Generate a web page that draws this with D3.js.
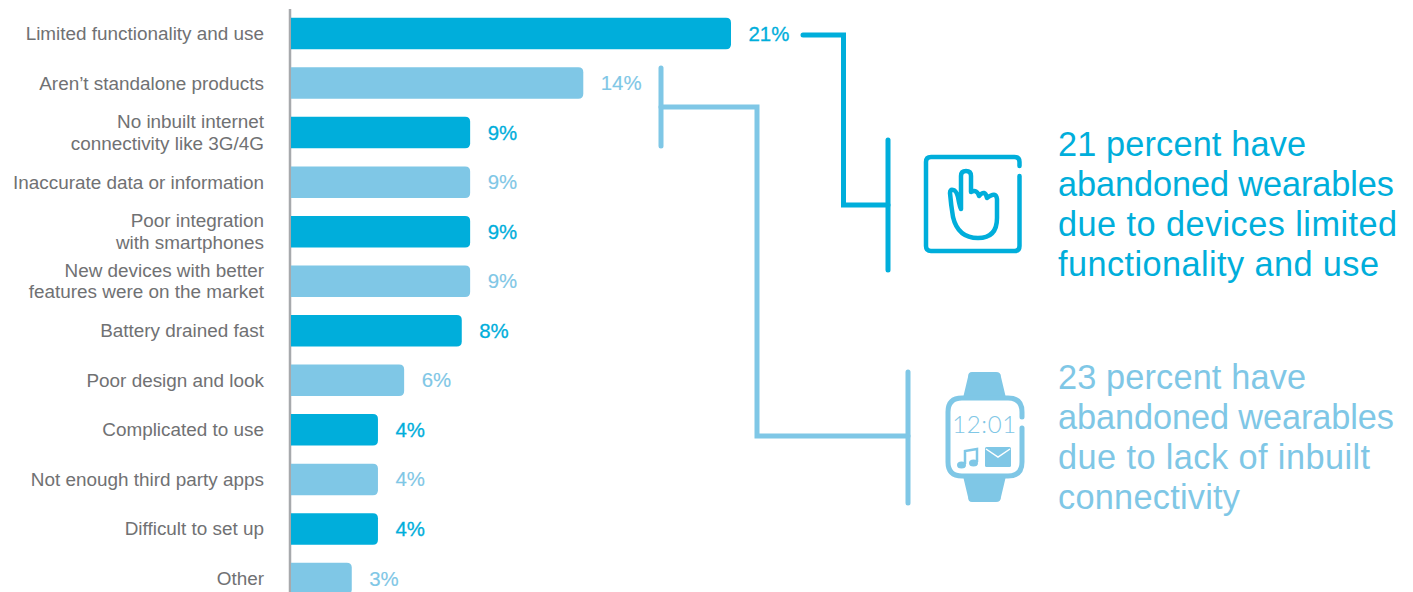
<!DOCTYPE html>
<html><head><meta charset="utf-8">
<script src="https://cdn.jsdelivr.net/npm/d3@7/dist/d3.min.js"></script>
<style>html,body{margin:0;padding:0;background:#fff;overflow:hidden}svg{display:block}text{font-family:"Liberation Sans",Arial,sans-serif}</style>
</head><body><svg id="c" width="1413" height="592"></svg>
<script>
const categories=[["Limited functionality and use"],["Aren’t standalone products"],["No inbuilt internet","connectivity like 3G/4G"],["Inaccurate data or information"],["Poor integration","with smartphones"],["New devices with better","features were on the market"],["Battery drained fast"],["Poor design and look"],["Complicated to use"],["Not enough third party apps"],["Difficult to set up"],["Other"]];
const values=[21,13.95,8.55,8.55,8.55,8.55,8.15,5.4,4.15,4.15,4.15,2.9];
const valueLabels=["21%","14%","9%","9%","9%","9%","8%","6%","4%","4%","4%","3%"];
const callout1=["21 percent have","abandoned wearables","due to devices limited","functionality and use"];
const callout2=["23 percent have","abandoned wearables","due to lack of inbuilt","connectivity"];
const callout1Widths=[248,336,339,321];
const callout2Widths=[248,336,312,182];
const DARK="#00aedb",LIGHT="#7fc7e6",GREY="#707173";
const svg=d3.select("#c");
const x=d3.scaleLinear().domain([0,21]).range([291,731]);
const y=d3.scalePoint().domain(d3.range(12)).range([33.5,578.5]);
const colr=i=>i%2?LIGHT:DARK;
const h=31.5;
svg.append("line").attr("x1",290).attr("x2",290).attr("y1",9).attr("y2",592).attr("stroke","#a7a9ac").attr("stroke-width",2.5);
const bars=svg.append("g");
values.forEach((v,i)=>{
  const yy=y(i)-h/2,w=x(v)-x(0),r=5;
  bars.append("path").attr("fill",colr(i))
    .attr("d",`M${x(0)},${yy}H${x(0)+w-r}Q${x(0)+w},${yy} ${x(0)+w},${yy+r}V${yy+h-r}Q${x(0)+w},${yy+h} ${x(0)+w-r},${yy+h}H${x(0)}Z`);
  svg.append("text").attr("x",x(v)+17.5).attr("y",y(i)+7).attr("fill",colr(i)).attr("font-size",20.4).attr("stroke",colr(i)).attr("stroke-width",i%2?0.15:0.3).text(valueLabels[i]);
  const t=svg.append("text").attr("text-anchor","end").attr("fill",GREY).attr("font-size",18.9);
  const ls=categories[i];
  ls.forEach((s,k)=>t.append("tspan").attr("x",264).attr("y",y(i)+6.5+(ls.length===2?(k===0?-11:10.5):0)).text(s));
});
const conn=(d,c)=>svg.append("path").attr("d",d).attr("fill","none").attr("stroke",c).attr("stroke-width",5).attr("stroke-linecap","round").attr("stroke-linejoin","miter");
conn("M803,35H843.5V205H888",DARK);
conn("M888,140V270",DARK);
conn("M661,68V146",LIGHT);
conn("M661,107H757V436H908",LIGHT);
conn("M908,372V503",LIGHT);
// hand icon
const g1=svg.append("g").attr("fill","none").attr("stroke",DARK).attr("stroke-width",4.5).attr("stroke-linecap","round").attr("stroke-linejoin","round");
g1.append("path").attr("d","M1019.5,166V162Q1019.5,157 1014.5,157H931Q926,157 926,162V246Q926,251 931,251H1014.5Q1019.5,251 1019.5,246V176");
g1.append("path").attr("d","M961,209V176Q961,171 966,171Q971,171 971,176V192Q977,189 979,196Q985,189 987,198Q996,191 997,199V218Q997,238 978,238Q958,238 953,217Q951,205 950,193Q950,189 953,190Q956,190 958,197Q960,208 961,209");
// watch icon
const g2=svg.append("g");
g2.append("path").attr("fill",LIGHT).attr("d","M972,372H996Q1001,372 1001,377L1006,398H963L968,377Q968,372 972,372Z");
g2.append("path").attr("fill",LIGHT).attr("d","M963,476H1006L1001,497Q1001,502 996,502H972Q968,502 968,497Z");
g2.append("path").attr("fill","#fff").attr("stroke",LIGHT).attr("stroke-width",5).attr("stroke-linecap","round").attr("d","M1022,417V412Q1022,398 1008,398H962Q948,398 948,412V462Q948,476 962,476H1008Q1022,476 1022,462V428");
g2.append("text").attr("x",984.5).attr("y",433).attr("text-anchor","middle").attr("fill",LIGHT).attr("font-size",24).attr("letter-spacing",0.6).style("font-family","Lato,'Liberation Sans'").style("font-weight",300).text("12:01");
g2.append("rect").attr("x",985).attr("y",447).attr("width",26).attr("height",20).attr("rx",1.5).attr("fill",LIGHT);
g2.append("path").attr("fill","none").attr("stroke","#fff").attr("stroke-width",1.5).attr("d","M986,449L998,457L1010,449");
g2.append("path").attr("fill","none").attr("stroke",LIGHT).attr("stroke-width",2.5).attr("d","M965,464V451L977,449V462");
g2.append("ellipse").attr("cx",961.5).attr("cy",465).attr("rx",4.5).attr("ry",3.5).attr("fill",LIGHT);
g2.append("ellipse").attr("cx",973.5).attr("cy",463).attr("rx",4.5).attr("ry",3.5).attr("fill",LIGHT);
const block=(lines,widths,y0,c)=>lines.forEach((s,i)=>svg.append("text").attr("x",1058).attr("y",y0+i*40).attr("fill",c).attr("font-size",34.3).attr("textLength",widths[i]).attr("lengthAdjust","spacing").text(s));
block(callout1,callout1Widths,155.5,DARK);
block(callout2,callout2Widths,388.5,LIGHT);
</script></body></html>
